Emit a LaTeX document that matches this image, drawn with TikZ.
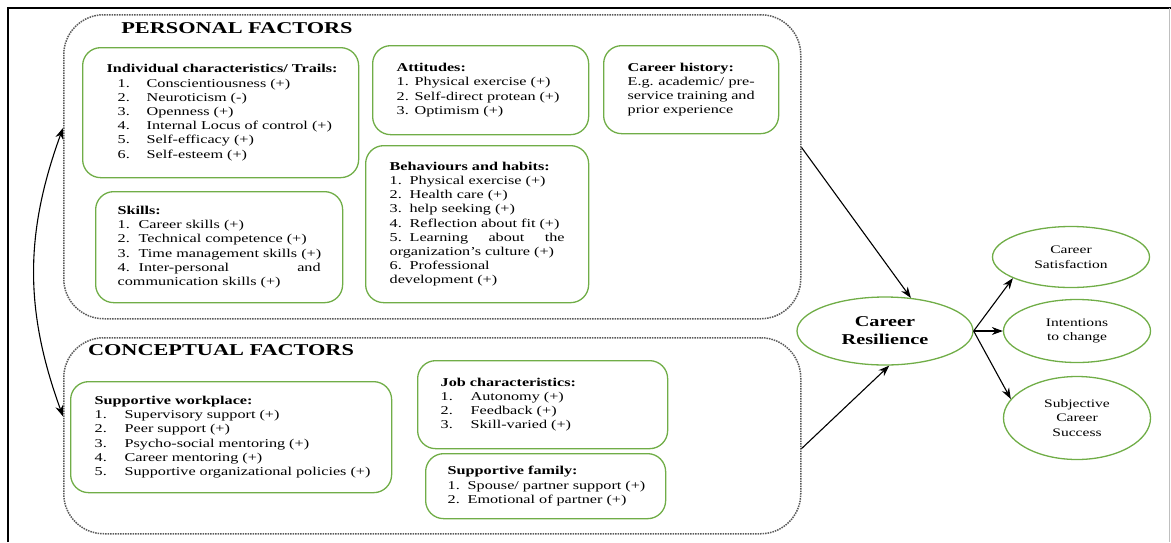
\documentclass[tikz,border=0pt]{standalone}
\usepackage{fontspec}
\setmainfont{Liberation Serif}[FakeStretch=1.35]
\usetikzlibrary{shapes.geometric,arrows.meta}
\definecolor{boxgreen}{RGB}{112,173,71}
\newcommand{\lnum}[2]{\makebox[#1][l]{#2}}

\begin{document}
\begin{tikzpicture}[>={Stealth[length=11pt,width=8pt]}, x=1pt, y=-1pt,
    gbox/.style={draw=boxgreen, line width=1.3pt, rounded corners=18pt, anchor=north west,
        align=left, inner xsep=#1, font=\fontsize{12}{14.2}\selectfont},
    gbox/.default=24,
    fbox/.style={draw=black!65, densely dotted, line width=1.5pt, rounded corners=40pt,
        anchor=north west, minimum width=737},
    title/.style={font=\fontsize{16.5}{20}\selectfont\bfseries},
    oval/.style={ellipse, draw=boxgreen, line width=1.3pt, inner sep=0pt, align=center,
        font=\fontsize{11.5}{14.5}\selectfont}]
\useasboundingbox (0,0) rectangle (1171,542);
\draw[line width=2pt] (8,542) -- (8,8) -- (1171,8);
\draw[gray!50, line width=1pt] (1169.5,8) -- (1169.5,542);

% the two groups of factors
\node[fbox, minimum height=304] (personal) at (63,14) {};
\node[fbox, minimum height=196] (conceptual) at (63,337) {};
\node[title] (ptitle) at (237,28) {PERSONAL FACTORS};
\node[title] (ctitle) at (221,350) {CONCEPTUAL FACTORS};

\node[gbox, text width=228, minimum height=130] (indiv) at (82,47)
{\mbox{\textbf{Individual characteristics/ Trails:}}\\
\hspace*{11pt}\lnum{29pt}{1.}Conscientiousness (+)\\
\hspace*{11pt}\lnum{29pt}{2.}Neuroticism (-)\\
\hspace*{11pt}\lnum{29pt}{3.}Openness (+)\\
\hspace*{11pt}\lnum{29pt}{4.}\mbox{Internal Locus of control (+)}\\
\hspace*{11pt}\lnum{29pt}{5.}Self-efficacy (+)\\
\hspace*{11pt}\lnum{29pt}{6.}Self-esteem (+)};

\node[gbox, text width=168, minimum height=89] (attitudes) at (372,45)
{\textbf{Attitudes:}\\
\lnum{18pt}{1.}Physical exercise (+)\\
\lnum{18pt}{2.}\mbox{Self-direct protean (+)}\\
\lnum{18pt}{3.}Optimism (+)};

\node[gbox, text width=127, minimum height=88] (history) at (603,45)
{\textbf{Career history:}\\
E.g.\hfill academic/\hfill pre-\\
service\hfill training\hfill and\\
prior experience};

\node[gbox=22, text width=203, minimum height=111] (skills) at (95,191)
{\textbf{Skills:}\\
\lnum{21pt}{1.}Career skills (+)\\
\lnum{21pt}{2.}Technical competence (+)\\
\lnum{21pt}{3.}\mbox{Time management skills (+)}\\
\lnum{21pt}{4.}Inter-personal\hfill and\\
communication skills (+)};

\node[gbox, text width=175, minimum height=157] (habits) at (365,145)
{\textbf{Behaviours and habits:}\\
\lnum{20pt}{1.}Physical exercise (+)\\
\lnum{20pt}{2.}Health care (+)\\
\lnum{20pt}{3.}help seeking (+)\\
\lnum{20pt}{4.}\mbox{Reflection about fit (+)}\\
\lnum{20pt}{5.}Learning\hfill about\hfill the\\
organization’s culture (+)\\
\lnum{20pt}{6.}Professional\\
development (+)};

\node[gbox, text width=273, minimum height=111] (workplace) at (70,381)
{\textbf{Supportive workplace:}\\
\lnum{30pt}{1.}Supervisory support (+)\\
\lnum{30pt}{2.}Peer support (+)\\
\lnum{30pt}{3.}Psycho-social mentoring (+)\\
\lnum{30pt}{4.}Career mentoring (+)\\
\lnum{30pt}{5.}\mbox{Supportive organizational policies (+)}};

\node[gbox=23, text width=204, minimum height=88] (job) at (417,360)
{\textbf{Job characteristics:}\\
\lnum{30pt}{1.}Autonomy (+)\\
\lnum{30pt}{2.}Feedback (+)\\
\lnum{30pt}{3.}Skill-varied (+)};

\node[gbox=22, text width=196, minimum height=65] (family) at (425,453)
{\textbf{Supportive family:}\\
\lnum{20pt}{1.}\mbox{Spouse/ partner support (+)}\\
\lnum{20pt}{2.}Emotional of partner (+)};

% outcomes
\node[oval, minimum width=176, minimum height=68, font=\fontsize{15}{18}\selectfont\bfseries] (cr) at (885,331) {Career\\Resilience};
\node[oval, minimum width=157, minimum height=61] (cs) at (1071,257) {Career\\Satisfaction};
\node[oval, minimum width=147, minimum height=63] (itc) at (1077,331) {Intentions\\to change};
\node[oval, minimum width=147, minimum height=83] (scs) at (1077,418) {Subjective\\Career\\Success};

\draw[->, line width=1.1pt] (personal.3) -- (cr.52);
\draw[->, line width=1.1pt] (conceptual.-2) -- (cr.-83);
\draw[->, line width=1.1pt] (cr.east) -- (cs.200);
\draw[->, line width=1.1pt] (cr.east) -- (itc.west);
\draw[->, line width=1.1pt] (cr.east) -- (scs.164);
\draw[<->, line width=1.1pt] (personal.174) to[bend right=20] (conceptual.177);
\end{tikzpicture}
\end{document}
